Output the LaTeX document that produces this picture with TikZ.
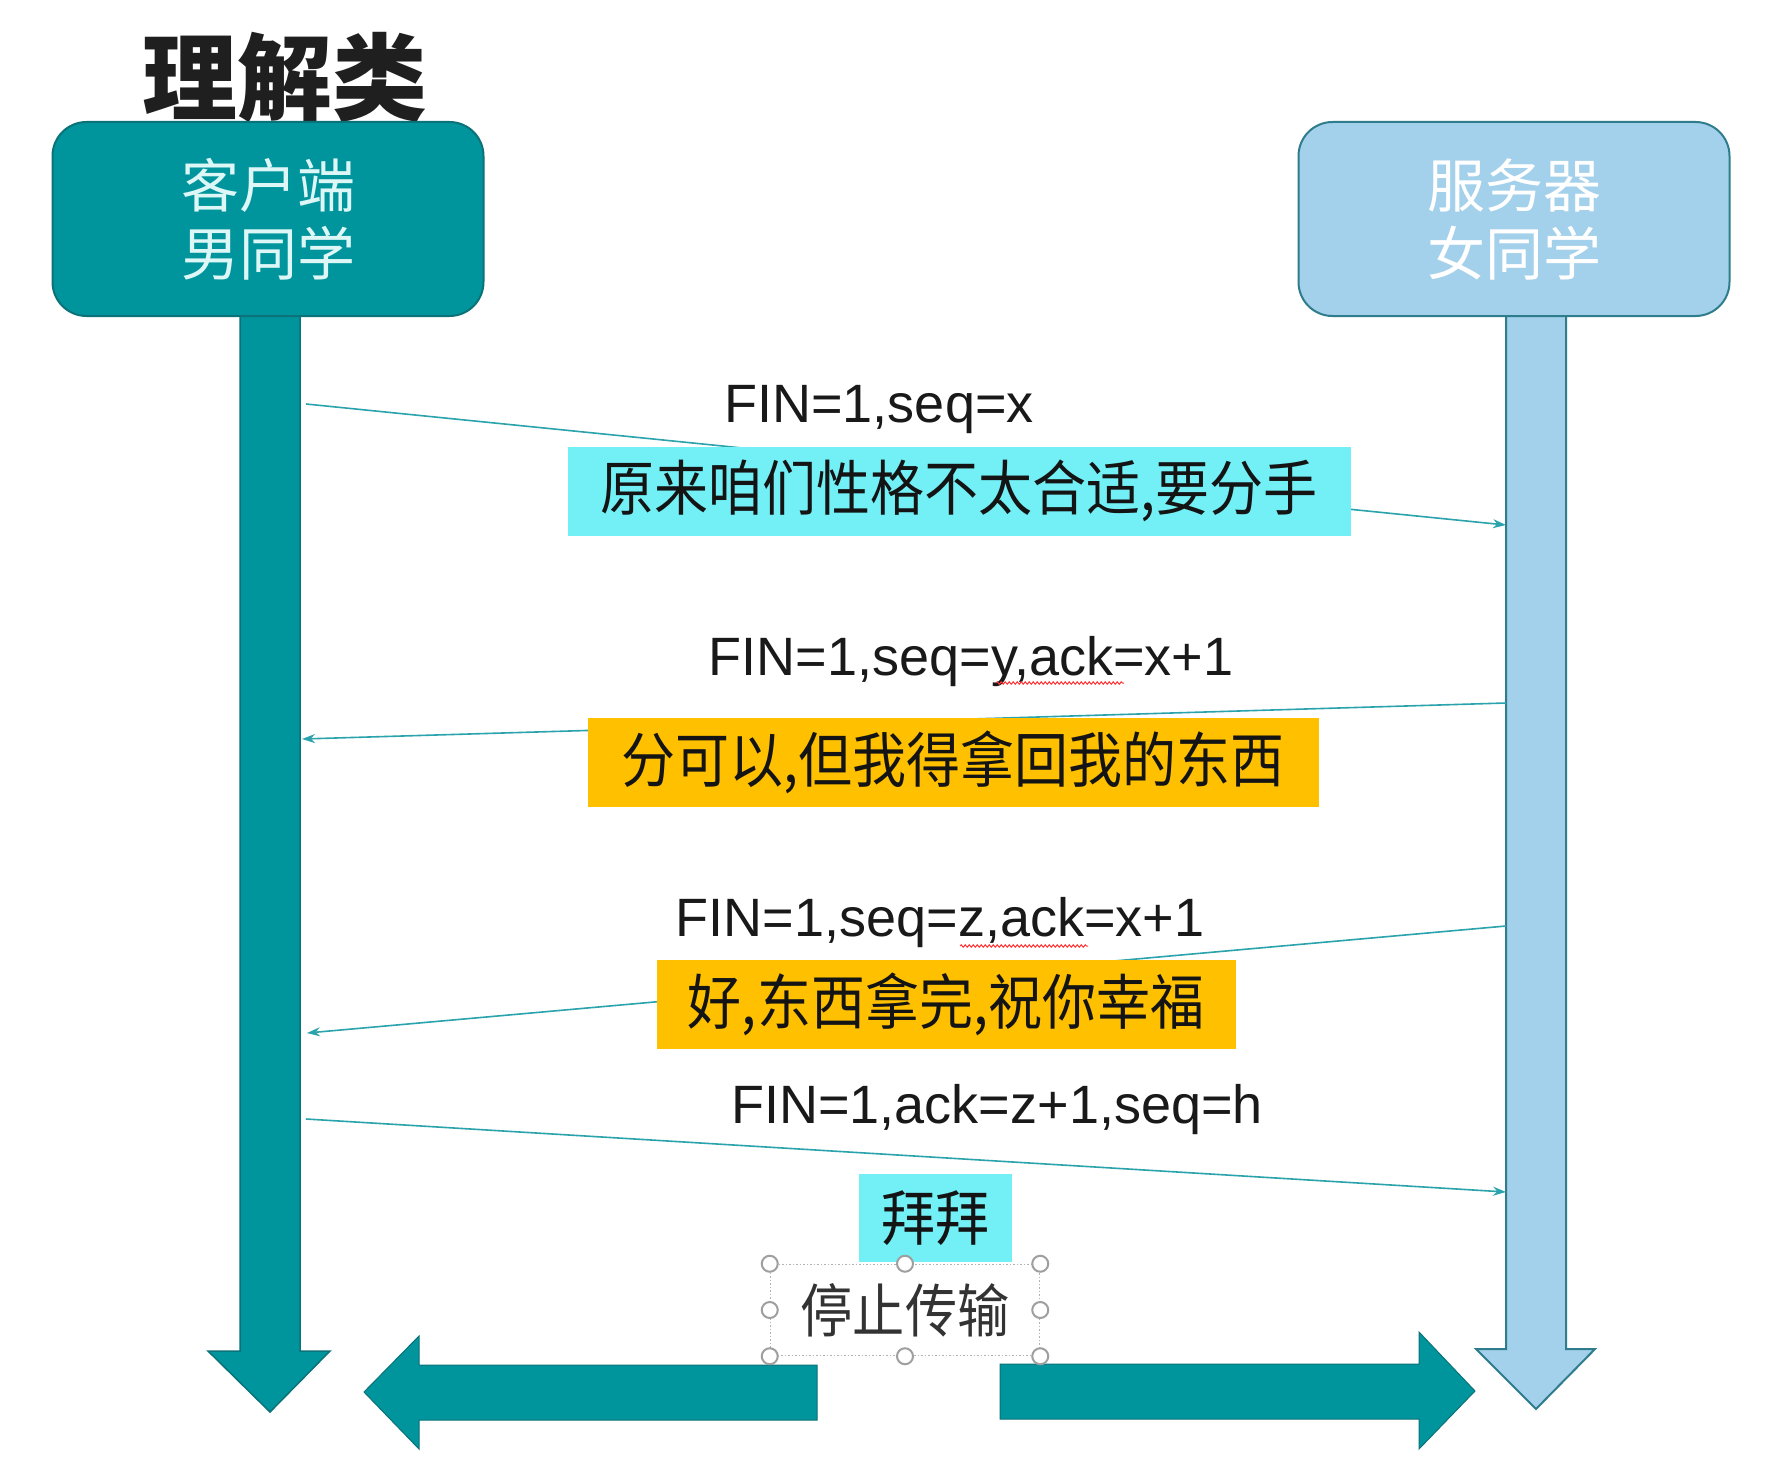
\documentclass[tikz,border=0pt]{standalone}
\usepackage{fontspec}
\setmainfont{Liberation Sans}
\newfontfamily\cjk{Noto Sans CJK SC}
\newfontfamily\cjkn{Noto Sans CJK SC}[FakeStretch=0.9]
\usetikzlibrary{arrows.meta,decorations.pathmorphing}
\definecolor{teal1}{HTML}{00959C}
\definecolor{tealdark}{HTML}{0A7278}
\definecolor{lblue}{HTML}{A3D0EA}
\definecolor{lbluedark}{HTML}{2F7D8C}
\definecolor{cyanbox}{HTML}{72F0F6}
\definecolor{orangebox}{HTML}{FFC000}
\definecolor{msgline}{HTML}{2AA3AC}
\definecolor{boxtxt}{HTML}{DDF7F7}
\tikzset{
  party/.style={rounded corners=34pt, line width=2pt, minimum width=431pt, minimum height=194pt,
    inner sep=0pt, align=center, font=\cjk\fontsize{58}{68}\selectfont},
  msg/.style={draw=msgline, line width=1.6pt},
  msgarrow/.style={msg, -{Stealth[length=13pt,width=9pt]}},
  seqlabel/.style={anchor=base, inner sep=0pt, text=black!90, font=\fontsize{54}{60}\selectfont},
  talk/.style={inner sep=0pt, text=black!92, font=\cjkn\fontsize{60}{70}\selectfont},
  handle/.style={draw=gray!75, fill=white, line width=2pt},
  spell/.style={draw=red!80, line width=1pt, decorate, decoration={snake, amplitude=1.2pt, segment length=4pt}}
}
\begin{document}
\begin{tikzpicture}[x=1pt,y=-1pt]
\useasboundingbox[fill=white] (0,0) rectangle (1775,1469);

% title
\node[font=\cjk\bfseries\fontsize{95}{100}\selectfont, text=black!88, inner sep=0pt] (title) at (285,78) {理解类};

% lifelines
\draw[fill=teal1, draw=tealdark, line width=1.5pt]
  (240,300) -- (300,300) -- (300,1351) -- (330,1351) -- (270,1412) -- (208,1351) -- (240,1351) -- cycle;
\draw[fill=lblue, draw=lbluedark, line width=2pt]
  (1506,300) -- (1566,300) -- (1566,1349) -- (1595,1349) -- (1536,1409) -- (1476,1349) -- (1506,1349) -- cycle;

% party boxes
\node[party, fill=teal1, draw=tealdark, text=boxtxt] (client) at (268,219) {客户端\\男同学};
\node[party, fill=lblue, draw=lbluedark, text=white] (server) at (1514,219) {服务器\\女同学};

% anchor points on the lifelines
\coordinate (c1) at (306,404);  \coordinate (s1) at (1506,525);
\coordinate (s2) at (1506,703); \coordinate (c2) at (302,739);
\coordinate (s3) at (1506,926); \coordinate (c3) at (307,1033);
\coordinate (c4) at (306,1119); \coordinate (s4) at (1506,1192);

% messages
\draw[msgarrow] (c1) -- (s1);
\draw[msgarrow] (s2) -- (c2);
\draw[msgarrow] (s3) -- (c3);
\draw[msgarrow] (c4) -- (s4);

% sequence labels
\node[seqlabel] (l1) at (879,422) {FIN=1,seq=x};
\node[seqlabel] (l2) at (971,675) {FIN=1,seq=y,ack=x+1};
\node[seqlabel] (l3) at (940,936) {FIN=1,seq=z,ack=x+1};
\node[seqlabel] (l4) at (997,1123) {FIN=1,ack=z+1,seq=h};
\draw[spell] (996,683) -- (1124,683);
\draw[spell] (960,946) -- (1088,946);

% speech boxes
\node[talk, fill=cyanbox, minimum width=783pt, minimum height=89pt] (t1) at (959,491) {原来咱们性格不太合适,要分手};
\node[talk, fill=orangebox, minimum width=731pt, minimum height=89pt] (t2) at (953,762) {分可以,但我得拿回我的东西};
\node[talk, fill=orangebox, minimum width=579pt, minimum height=89pt] (t3) at (946,1004) {好,东西拿完,祝你幸福};
\node[talk, fill=cyanbox, minimum width=153pt, minimum height=88pt] (t4) at (935,1218) {拜拜};

% bottom arrows
\draw[fill=teal1, draw=tealdark, line width=1pt]
  (817,1365) -- (419,1365) -- (419,1336) -- (364,1392) -- (419,1449) -- (419,1420) -- (817,1420) -- cycle;
\draw[fill=teal1, draw=tealdark, line width=1pt]
  (1000,1364) -- (1419,1364) -- (1419,1332) -- (1475,1391) -- (1419,1449) -- (1419,1419) -- (1000,1419) -- cycle;

% selected text box
\node[draw=gray!60, dotted, line width=1.5pt, minimum width=269pt, minimum height=91pt, inner sep=0pt,
  text=black!80, font=\cjkn\fontsize{58}{68}\selectfont] (stop) at (905,1310) {停止传输};
\foreach \a in {north west,north,north east,west,east,south west,south,south east}
  \draw[handle] (stop.\a) circle[radius=8pt];
\end{tikzpicture}
\end{document}
